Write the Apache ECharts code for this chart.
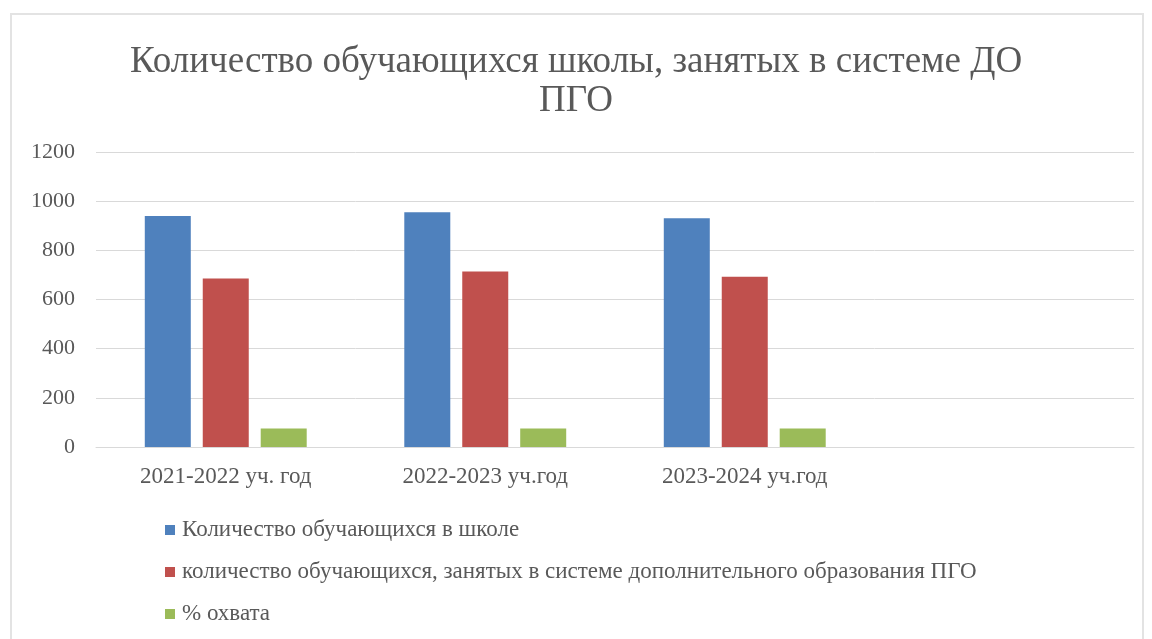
<!DOCTYPE html>
<html>
<head>
<meta charset="utf-8">
<script src="https://cdn.jsdelivr.net/npm/echarts@6/dist/echarts.min.js"></script>
<style>
  html, body { margin: 0; padding: 0; background: #fff; }
  #chart { width: 1152px; height: 639px; }
</style>
</head>
<body>
<div id="chart"></div>
<script>
  // данные диаграммы
  var categories = ['2021-2022 уч. год', '2022-2023 уч.год', '2023-2024 уч.год', ''];
  var seriesNames = [
    'Количество обучающихся в школе',
    'количество обучающихся, занятых в системе дополнительного образования ПГО',
    '% охвата'
  ];
  var totalStudents = [940, 955, 931, null];
  var extraEducation = [685, 714, 693, null];
  var coverage = [75, 75, 75, null];
  var yTicks = [0, 200, 400, 600, 800, 1000, 1200];

  var font = '"Liberation Serif", "Times New Roman", serif';
  var textColor = '#595959';

  var chart = echarts.init(document.getElementById('chart'));

  function bar(name, data) {
    return {
      name: name,
      type: 'bar',
      data: data,
      barWidth: 46,
      barGap: '26%',
      barCategoryGap: '37%'
    };
  }

  var option = {
    animation: false,
    color: ['#4f81bd', '#c0504d', '#9bbb59'],
    graphic: [{
      type: 'rect',
      shape: { x: 11, y: 14, width: 1132, height: 640 },
      style: { fill: 'none', stroke: '#e3e3e3', lineWidth: 2 },
      silent: true
    }],
    title: {
      text: 'Количество обучающихся школы, занятых в системе ДО\nПГО',
      left: 'center',
      top: 38,
      textStyle: {
        fontFamily: font,
        fontWeight: 'normal',
        fontSize: 37,
        lineHeight: 39,
        color: textColor
      }
    },
    legend: {
      orient: 'vertical',
      left: 160,
      top: 513,
      itemGap: 18,
      itemWidth: 10,
      itemHeight: 10,
      icon: 'rect',
      textStyle: { fontFamily: font, fontSize: 23, lineHeight: 24, color: textColor, padding: [0, 0, 0, 2] },
      data: seriesNames
    },
    grid: {
      left: 96,
      right: 18,
      top: 152,
      bottom: 192,
      containLabel: false
    },
    xAxis: {
      type: 'category',
      data: categories,
      axisLine: { show: true, lineStyle: { color: '#d9d9d9' } },
      axisTick: { show: false },
      axisLabel: { fontFamily: font, fontSize: 23, color: textColor, margin: 18 }
    },
    yAxis: {
      type: 'value',
      min: yTicks[0],
      max: yTicks[yTicks.length - 1],
      interval: 200,
      axisLine: { show: false },
      axisTick: { show: false },
      splitLine: { lineStyle: { color: '#d9d9d9', width: 1 } },
      axisLabel: {
        fontFamily: font, fontSize: 22, color: textColor, margin: 21,
        formatter: function (v) { return String(v); }
      }
    },
    series: [
      bar(seriesNames[0], totalStudents),
      bar(seriesNames[1], extraEducation),
      bar(seriesNames[2], coverage)
    ]
  };
  chart.setOption(option);
</script>
</body>
</html>
